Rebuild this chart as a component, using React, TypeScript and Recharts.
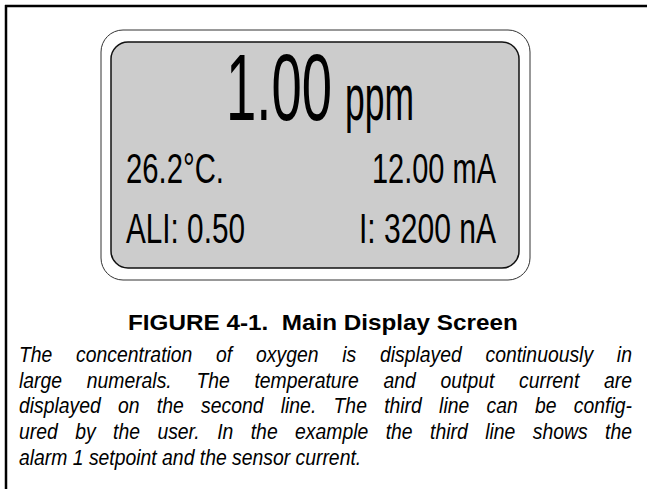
import React from 'react';
import { ComposedChart, XAxis, YAxis, Customized } from 'recharts';

// what the instrument screen shows
const mainReading = ['1.00', 'ppm'];
const rowLeft = ['26.2°C.', 'ALI: 0.50'];
const rowRight = ['12.00 mA', 'I: 3200 nA'];
const captionTitle = 'FIGURE 4-1.  Main Display Screen';
const captionLines = [
  'The concentration of oxygen is displayed continuously in',
  'large numerals. The temperature and output current are',
  'displayed on the second line. The third line can be config-',
  'ured by the user. In the example the third line shows the',
  'alarm 1 setpoint and the sensor current.',
];

const W = 647;
const H = 489;
const SANS = '"Liberation Sans", Arial, Helvetica, sans-serif';
const PARA_SIZE = 22;
const PARA_SQUEEZE = 0.88;
const PARA_LEFT = 19;
const PARA_WIDTH = 613;

let ctx: CanvasRenderingContext2D | null = null;
function measure(s: string, size: number, style = 'normal', weight = 'normal') {
  if (!ctx) ctx = document.createElement('canvas').getContext('2d');
  if (!ctx) return s.length * size * 0.55;
  ctx.font = `${style} ${weight} ${size}px "Liberation Sans"`;
  return ctx.measureText(s).width;
}

// text squeezed horizontally to a given width (the display uses a condensed face)
function FitText({ x, y, width, size, anchor = 'start', weight = 'normal', children }: any) {
  const natural = measure(children, size, 'normal', weight);
  const sx = width / natural;
  const left = anchor === 'end' ? x - width : anchor === 'middle' ? x - width / 2 : x;
  return (
    <g transform={`translate(${left}, ${y}) scale(${sx}, 1)`}>
      <text x={0} y={0} fontSize={size} fontWeight={weight} style={{ whiteSpace: 'pre' }}>{children}</text>
    </g>
  );
}

function Overlay() {
  return (
    <g fontFamily={SANS} fill="#000">
      {/* page frame */}
      <line x1={5} y1={6} x2={W} y2={6} stroke="#000" strokeWidth={2.5} />
      <line x1={6} y1={5} x2={6} y2={H} stroke="#000" strokeWidth={2.5} />

      {/* bezel + screen */}
      <rect x={101} y={30} width={429} height={250} rx={22} ry={22} fill="#fff" stroke="#333" strokeWidth={1} />
      <rect x={111} y={42} width={408} height={226} rx={17} ry={17} fill="#cccccc" stroke="#111" strokeWidth={1.5} />

      <FitText x={226} y={120} size={95} width={106}>{mainReading[0]}</FitText>
      <FitText x={345} y={120} size={64} width={69}>{mainReading[1]}</FitText>

      <FitText x={126} y={183} size={42} width={98}>{rowLeft[0]}</FitText>
      <FitText x={126} y={243} size={42} width={119}>{rowLeft[1]}</FitText>
      <FitText x={496} y={183} size={42} width={124} anchor="end">{rowRight[0]}</FitText>
      <FitText x={496} y={243} size={42} width={137} anchor="end">{rowRight[1]}</FitText>

      <FitText x={323} y={330} size={22} width={390} anchor="middle" weight="bold">{captionTitle}</FitText>

      {captionLines.map((line, i) => {
        const last = i === captionLines.length - 1;
        const spaces = line.split(' ').length - 1;
        const natural = measure(line, PARA_SIZE, 'italic');
        const ws = last ? 0 : (PARA_WIDTH / PARA_SQUEEZE - natural) / spaces;
        return (
          <g key={i} transform={`translate(${PARA_LEFT}, ${362 + i * 25.7}) scale(${PARA_SQUEEZE}, 1)`}>
            <text x={0} y={0} fontSize={PARA_SIZE} fontStyle="italic" wordSpacing={ws}>
              {line}
            </text>
          </g>
        );
      })}
    </g>
  );
}

export default function App() {
  return (
    <div style={{ position: 'absolute', left: 0, top: 0, width: W, height: H, background: '#fff' }}>
      <ComposedChart width={W} height={H} data={[]} margin={{ top: 0, right: 0, bottom: 0, left: 0 }}>
        <XAxis type="number" dataKey="x" domain={[0, W]} hide />
        <YAxis type="number" dataKey="y" domain={[0, H]} reversed hide />
        <Customized component={<Overlay />} />
      </ComposedChart>
    </div>
  );
}
